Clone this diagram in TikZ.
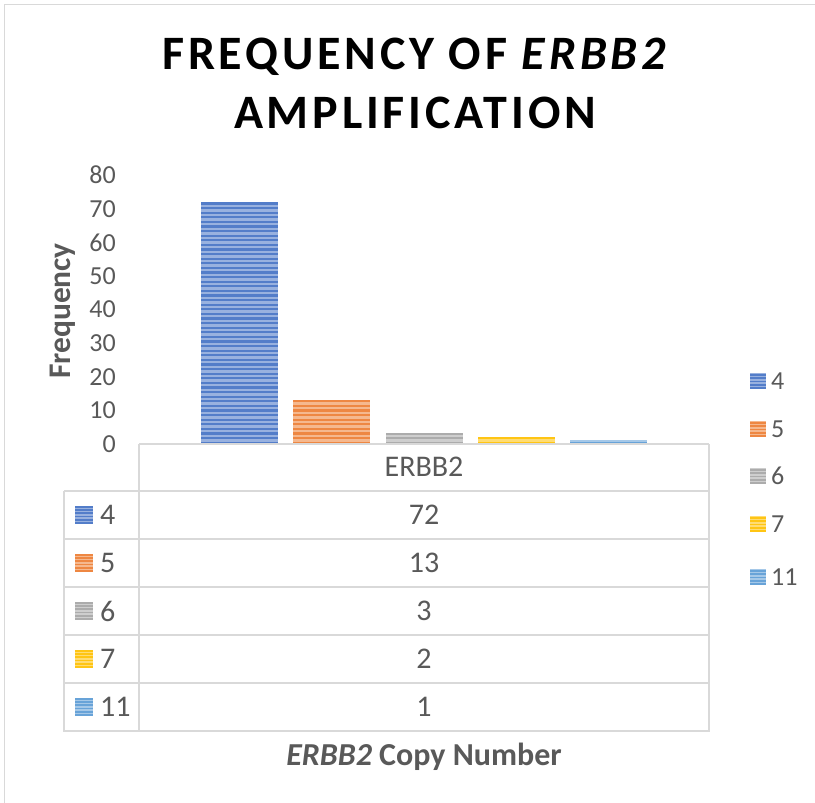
\documentclass[tikz,border=0pt]{standalone}
\usepackage{fontspec}
\setmainfont{Carlito}
\definecolor{txt}{HTML}{595959}
\definecolor{gridc}{HTML}{D9D9D9}
\definecolor{frame}{HTML}{D9D9D9}
\definecolor{cA}{HTML}{4472C4}
\definecolor{cB}{HTML}{ED7D31}
\definecolor{cC}{HTML}{A5A5A5}
\definecolor{cD}{HTML}{FFC000}
\definecolor{cE}{HTML}{5B9BD5}
\newcommand\pxs{3.36}
\tikzset{
  stripe period/.store in=\stripeperiod, stripe period=4.6,
  stripes/.style={path picture={
      \fill[#1!55!white] (path picture bounding box.south west) rectangle (path picture bounding box.north east);
      \foreach \k in {0,...,80}{
        \draw[#1!92!white, line width=0.5*\stripeperiod pt]
          ([yshift=\k*\stripeperiod pt+0.25*\stripeperiod pt]path picture bounding box.south west) --
          ([yshift=\k*\stripeperiod pt+0.25*\stripeperiod pt]path picture bounding box.south east);}
  }},
  barbox/.style={draw=none, inner sep=0, minimum width=77pt, anchor=south west, stripes=#1},
  keybox/.style={draw=none, inner sep=0, minimum size=#1, stripe period=3.3},
  tick/.style={anchor=east, inner sep=0, text=txt, font=\fontsize{26}{30}\selectfont},
  cell/.style={inner sep=0, text=txt, font=\fontsize{30}{34}\selectfont},
  keytext/.style={anchor=west, inner sep=0, text=txt, font=\fontsize{26}{30}\selectfont},
  gline/.style={draw=gridc, line width=2pt},
}
\begin{document}
\begin{tikzpicture}[x=1pt,y=-1pt]
\useasboundingbox (0,0) rectangle (815,803);
% chart frame
\draw[frame, line width=1.5pt] (4.5,840) -- (4.5,4.5) -- (840,4.5);

% title
\node[inner sep=0, font=\fontsize{48}{56}\bfseries\addfontfeature{LetterSpace=8}] (title1) at (416,57) {FREQUENCY OF \textit{ERBB2}};
\node[inner sep=0, font=\fontsize{48}{56}\bfseries\addfontfeature{LetterSpace=8}] (title2) at (415,113) {AMPLIFICATION};

% value axis labels
\foreach \v in {0,10,...,80}{
  \node[tick] (t\v) at (116,{444-\v*\pxs}) {\v};
}
\node[rotate=90, inner sep=0, text=txt, font=\fontsize{31.5}{36}\bfseries\selectfont] (ytitle) at (63,311) {Frequency};

% bars
\node[barbox=cA, minimum height={72*\pxs pt}] (b4) at (201,444) {};
\node[barbox=cB, minimum height={13*\pxs pt}] (b5) at (293,444) {};
\node[barbox=cC, minimum height={3*\pxs pt}] (b6) at (386,444) {};
\node[barbox=cD, minimum height={2*\pxs pt}] (b7) at (478,444) {};
\node[barbox=cE, minimum height={1*\pxs pt}] (b11) at (570,444) {};

% category axis and data table
\draw[gline] (139,444) -- (709,444);
\draw[gline] (139,444) -- (139,732);
\draw[gline] (709,444) -- (709,732);
\draw[gline] (64,491) -- (64,732);
\foreach \yy in {491,539,587,635,683,731}{
  \draw[gline] (64,\yy) -- (709,\yy);
}
\node[cell] (hdr) at (424,467) {ERBB2};

\foreach \lab/\val/\col [count=\i from 0] in {4/72/cA, 5/13/cB, 6/3/cC, 7/2/cD, 11/1/cE}{
  \node[keybox=18pt, stripes=\col] (rk\lab) at (84,{515+48*\i}) {};
  \node[cell, anchor=west] (rl\lab) at (100,{515+48*\i}) {\lab};
  \node[cell] (rv\lab) at (424,{515+48*\i}) {\val};
}

% legend
\foreach \lab/\col/\yy in {4/cA/381, 5/cB/429, 6/cC/476, 7/cD/524, 11/cE/577}{
  \node[keybox=16pt, stripes=\col] (lk\lab) at (758,\yy) {};
  \node[keytext] (lt\lab) at (771,\yy) {\lab};
}

% category axis title
\node[inner sep=0, text=txt, font=\fontsize{32}{36}\bfseries\selectfont] (xtitle) at (424,757) {\textit{ERBB2} Copy Number};
\end{tikzpicture}
\end{document}
